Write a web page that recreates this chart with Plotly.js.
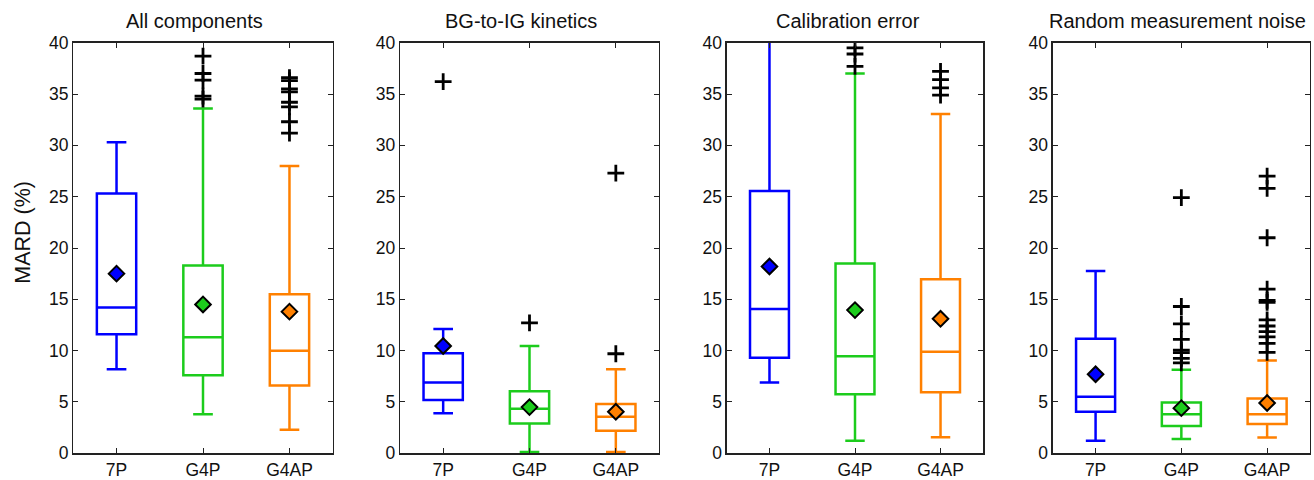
<!DOCTYPE html>
<html>
<head>
<meta charset="utf-8">
<script src="https://cdn.plot.ly/plotly-3.0.1.min.js"></script>
<style>html,body{margin:0;padding:0;background:#fff;}#chart{width:1314px;height:480px;}</style>
</head>
<body>
<div id="chart"></div>
<script>
// ---- data ----
var categories = ['7P', 'G4P', 'G4AP'];
var panelTitles = ['All components', 'BG-to-IG kinetics', 'Calibration error', 'Random measurement noise'];
var yTitle = 'MARD (%)';
var yTickVals = [0, 5, 10, 15, 20, 25, 30, 35, 40];
var colors = ['#0000ff', '#1ccc1c', '#ff8000'];

var allLower   = [8.2, 3.8, 2.3];
var allQ1      = [11.6, 7.6, 6.6];
var allMedian  = [14.2, 11.3, 10.0];
var allQ3      = [25.3, 18.3, 15.5];
var allUpper   = [30.3, 33.6, 28.0];
var allMean    = [17.5, 14.5, 13.8];
var allOut7P   = [];
var allOutG4P  = [38.7, 37.0, 36.35, 34.8, 34.5];
var allOutG4AP = [36.6, 36.3, 35.5, 35.2, 34.2, 33.75, 32.3, 31.2];

var kinLower   = [3.9, 0.13, 0.13];
var kinQ1      = [5.2, 2.9, 2.2];
var kinMedian  = [6.9, 4.35, 3.55];
var kinQ3      = [9.75, 6.05, 4.8];
var kinUpper   = [12.1, 10.45, 8.2];
var kinMean    = [10.45, 4.5, 4.05];
var kinOut7P   = [36.2];
var kinOutG4P  = [12.7];
var kinOutG4AP = [27.3, 9.7];

var calLower   = [6.9, 1.23, 1.56];
var calQ1      = [9.3, 5.75, 5.95];
var calMedian  = [14.05, 9.45, 9.9];
var calQ3      = [25.55, 18.5, 16.95];
var calUpper   = [42.0, 37.0, 33.05];
var calMean    = [18.2, 13.95, 13.1];
var calOut7P   = [];
var calOutG4P  = [39.5, 38.9, 37.7];
var calOutG4AP = [37.2, 36.4, 35.6, 34.9];

var noiLower   = [1.23, 1.4, 1.55];
var noiQ1      = [4.05, 2.65, 2.85];
var noiMedian  = [5.5, 3.8, 3.8];
var noiQ3      = [11.15, 4.95, 5.35];
var noiUpper   = [17.75, 8.15, 9.05];
var noiMean    = [7.7, 4.4, 4.9];
var noiOut7P   = [];
var noiOutG4P  = [24.9, 14.3, 12.6, 11.1, 10.06, 9.8, 9.25, 8.8];
var noiOutG4AP = [27.0, 25.8, 21.0, 16.0, 14.9, 14.7, 13.0, 12.4, 11.85, 11.35, 10.7, 9.83];

var panels = [
  {lo: allLower, q1: allQ1, med: allMedian, q3: allQ3, hi: allUpper, mean: allMean, out: [allOut7P, allOutG4P, allOutG4AP]},
  {lo: kinLower, q1: kinQ1, med: kinMedian, q3: kinQ3, hi: kinUpper, mean: kinMean, out: [kinOut7P, kinOutG4P, kinOutG4AP]},
  {lo: calLower, q1: calQ1, med: calMedian, q3: calQ3, hi: calUpper, mean: calMean, out: [calOut7P, calOutG4P, calOutG4AP]},
  {lo: noiLower, q1: noiQ1, med: noiMedian, q3: noiQ3, hi: noiUpper, mean: noiMean, out: [noiOut7P, noiOutG4P, noiOutG4AP]}
];

// ---- layout geometry (pixels) ----
var W = 1314, H = 480;
var panelX = [[73.3, 332.7], [400, 659], [726.7, 983.3], [1052.7, 1310]];
var plotTop = 42.7, plotBottom = 453.3;
var titleCenters = [194, 520.5, 848, 1177.5];
var font = 'Liberation Sans, Arial, Helvetica, sans-serif';

var traces = [];
var layout = {
  width: W, height: H,
  margin: {l: 0, r: 0, t: 0, b: 0, pad: 0},
  paper_bgcolor: '#fff', plot_bgcolor: '#fff',
  showlegend: false,
  boxmode: 'overlay',
  font: {family: font, size: 17, color: '#111'},
  annotations: []
};

panels.forEach(function (p, i) {
  var n = i + 1;
  var xa = 'x' + (n === 1 ? '' : n), ya = 'y' + (n === 1 ? '' : n);
  var xk = 'xaxis' + (n === 1 ? '' : n), yk = 'yaxis' + (n === 1 ? '' : n);
  categories.forEach(function (c, j) {
    traces.push({
      type: 'box', xaxis: xa, yaxis: ya,
      x: [c], q1: [p.q1[j]], median: [p.med[j]], q3: [p.q3[j]],
      lowerfence: [p.lo[j]], upperfence: [p.hi[j]],
      boxpoints: false, width: 0.455, whiskerwidth: 0.5,
      line: {color: colors[j], width: 2.5},
      fillcolor: 'rgba(255,255,255,0)',
      hoverinfo: 'skip'
    });
    if (p.out[j].length) {
      traces.push({
        type: 'scatter', mode: 'markers', xaxis: xa, yaxis: ya,
        x: p.out[j].map(function () { return c; }), y: p.out[j],
        marker: {symbol: 'cross-thin-open', size: 12, color: '#000', line: {color: '#000', width: 2.8}},
        hoverinfo: 'skip'
      });
    }
  });
  traces.push({
    type: 'scatter', mode: 'markers', xaxis: xa, yaxis: ya,
    x: categories, y: p.mean,
    marker: {symbol: 'diamond', size: 12, color: colors, line: {color: '#000', width: 2}},
    hoverinfo: 'skip'
  });

  layout[xk] = {
    domain: [panelX[i][0] / W, panelX[i][1] / W],
    anchor: ya, type: 'category', categoryorder: 'array', categoryarray: categories,
    range: [-0.5, 2.5], showgrid: false, zeroline: false,
    showline: true, linecolor: '#222', linewidth: 1.3, mirror: 'ticks',
    ticks: 'inside', ticklen: 5, tickcolor: '#222', tickwidth: 1,
    tickfont: {family: font, size: 17.5, color: '#111'}, fixedrange: true
  };
  layout[yk] = {
    domain: [1 - plotBottom / H, 1 - plotTop / H],
    anchor: xa, range: [0, 40], tickvals: yTickVals,
    showgrid: false, zeroline: false,
    showline: true, linecolor: '#222', linewidth: 1.3, mirror: 'ticks',
    ticks: 'inside', ticklen: 5, tickcolor: '#222', tickwidth: 1,
    tickfont: {family: font, size: 17.5, color: '#111'}, fixedrange: true
  };
  layout.annotations.push({
    xref: 'paper', yref: 'paper', x: titleCenters[i] / W, y: 1 - 20.7 / H,
    xanchor: 'center', yanchor: 'middle', showarrow: false,
    text: panelTitles[i], font: {family: font, size: 20, color: '#111'}
  });
});

layout.annotations.push({
  xref: 'paper', yref: 'paper', x: 22.7 / W, y: 1 - 232 / H,
  xanchor: 'center', yanchor: 'middle', showarrow: false, textangle: -90,
  text: yTitle, font: {family: font, size: 21.5, color: '#111'}
});

Plotly.newPlot('chart', traces, layout, {staticPlot: true, displayModeBar: false});
</script>
</body>
</html>
